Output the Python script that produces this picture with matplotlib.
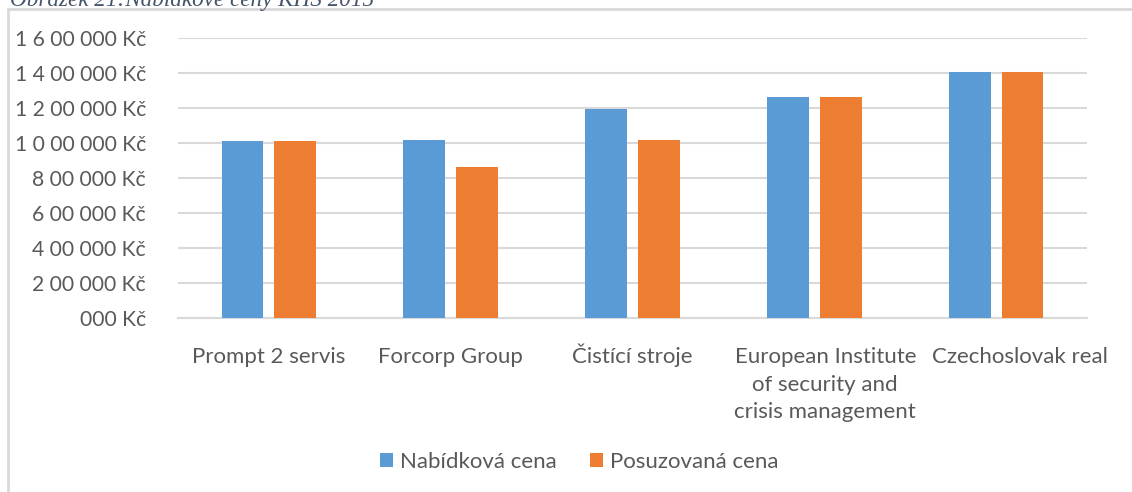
import matplotlib.pyplot as plt
import matplotlib.patches as patches
import matplotlib.transforms as mtransforms
from matplotlib.ticker import FuncFormatter
import numpy as np

categories = ["Prompt 2 servis", "Forcorp Group", "Čistící stroje",
              "European Institute\nof security and\ncrisis management", "Czechoslovak real"]
nabidkova = [1013000, 1019000, 1193000, 1265000, 1407000]
posuzovana = [1013000, 866000, 1015000, 1265000, 1407000]
series_names = ["Nabídková cena", "Posuzovaná cena"]
yticks = [0, 200000, 400000, 600000, 800000, 1000000, 1200000, 1400000, 1600000]

BLUE = "#5B9BD5"
ORANGE = "#ED7D31"
GRID = "#D9D9D9"
TEXT = "#595959"

plt.rcParams['font.family'] = ['Lato', 'DejaVu Sans']


def kc_format(v, pos=None):
    # grouping as in the source: "1 6 00 000 Kč"
    v = int(round(v))
    last3 = "%03d" % (v % 1000)
    rest = v // 1000
    if rest == 0:
        return last3 + " Kč"
    parts = ["%02d" % (rest % 100)]
    rest = rest // 100
    while rest > 0:
        parts.insert(0, str(rest % 10))
        rest = rest // 10
    parts[0] = str(int(parts[0]))
    return " ".join(parts) + " " + last3 + " Kč"


fig = plt.figure(figsize=(11.32, 4.92), dpi=100)
ax = fig.add_axes([178 / 1132, 1 - 318.3 / 492, (1087 - 178) / 1132, (318.3 - 38) / 492])

x = np.arange(len(categories))
w = 0.23
off = 0.145
ax.bar(x - off, nabidkova, w, color=BLUE, label=series_names[0], zorder=3)
ax.bar(x + off, posuzovana, w, color=ORANGE, label=series_names[1], zorder=3)

ax.set_xlim(-0.5, len(categories) - 0.5)
ax.set_ylim(0, 1600000)
ax.set_yticks(yticks)
ax.yaxis.set_major_formatter(FuncFormatter(kc_format))
ax.set_xticks(x)
ax.set_xticklabels(categories, linespacing=1.45)
ax.tick_params(axis='y', length=0, pad=23, labelsize=15.2, labelcolor=TEXT)
ax.tick_params(axis='x', length=0, pad=21, labelsize=16, labelcolor=TEXT)
ax.grid(axis='y', color=GRID, linewidth=1.5, zorder=0)
for s in ['top', 'right', 'left']:
    ax.spines[s].set_visible(False)
ax.spines['bottom'].set_color(GRID)
ax.spines['bottom'].set_linewidth(1.5)

# long labels are nudged right in the source, as Excel does; the caron on Č
# would push its label down, so lift it back onto the common baseline
shifts = [(0, 0), (0, 0), (0, 4), (11, 0), (24, 0)]
for lab, (dx, dy) in zip(ax.get_xticklabels(), shifts):
    lab.set_transform(lab.get_transform() +
                      mtransforms.ScaledTranslation(dx / 100, dy / 100, fig.dpi_scale_trans))

leg = fig.legend(loc='center', bbox_to_anchor=(579 / 1132, 1 - 462 / 492), ncol=2, frameon=False,
                 fontsize=16, handlelength=0.6, handleheight=0.6, handletextpad=0.3,
                 columnspacing=1.5)
for t in leg.get_texts():
    t.set_color(TEXT)

# chart frame (partially cut off by the crop)
fig.patches.append(patches.Rectangle((8 / 1132, -0.1), 1.2, 1 - 9 / 492 + 0.1,
                                     transform=fig.transFigure, fill=False,
                                     edgecolor=GRID, linewidth=2))
# caption cut off at the top
fig.text(10 / 1132, 1 - 6 / 492, "Obrázek 21:Nabídkové ceny KHS 2015", family='Liberation Serif',
         style='italic', fontsize=16.7, color="#44546A", va='baseline', ha='left')

fig.savefig("out.png", dpi=100)
